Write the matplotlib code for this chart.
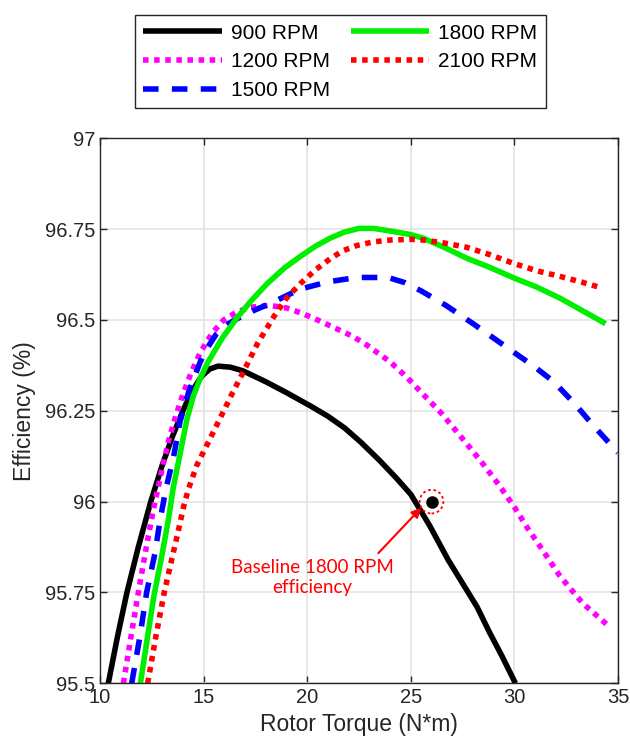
import matplotlib
matplotlib.use("Agg")
import matplotlib.pyplot as plt

plt.rcParams['font.family'] = ['Liberation Sans', 'DejaVu Sans']

# Efficiency vs rotor torque for each speed
torque_900 = [10.4, 10.85, 11.3, 11.85, 12.45, 13.0, 13.5, 14.0, 14.4, 14.9, 15.3, 15.7, 16.3,
              16.9, 18.0, 19.0, 20.2, 21.0, 21.8, 22.6, 23.5, 24.3, 25.0, 25.9, 26.8, 27.5,
              28.2, 28.8, 29.4, 30.05]
eff_900 = [95.5, 95.63, 95.75, 95.875, 96.0, 96.1, 96.18, 96.25, 96.3, 96.345, 96.365, 96.373,
           96.37, 96.36, 96.33, 96.3, 96.262, 96.235, 96.203, 96.163, 96.113, 96.065, 96.02,
           95.935, 95.84, 95.775, 95.71, 95.64, 95.575, 95.5]

torque_1200 = [11.13, 11.5, 11.85, 12.25, 12.6, 13.0, 13.3, 13.65, 14.0, 14.4, 14.84, 15.4,
               15.97, 16.6, 17.26, 18.2, 19.0, 19.67, 20.5, 21.45, 22.2, 22.9, 24.0, 24.85,
               25.6, 26.45, 27.4, 28.4, 29.2, 30.0, 30.6, 31.26, 32.2, 33.3, 34.5]
eff_1200 = [95.5, 95.63, 95.75, 95.88, 95.985, 96.09, 96.165, 96.235, 96.295, 96.355, 96.41,
            96.463, 96.5, 96.522, 96.535, 96.54, 96.533, 96.52, 96.5, 96.475, 96.455, 96.43,
            96.385, 96.34, 96.295, 96.245, 96.18, 96.11, 96.05, 95.985, 95.93, 95.875, 95.795,
            95.72, 95.66]

torque_1500 = [11.53, 11.93, 12.25, 12.66, 12.9, 13.2, 13.54, 13.86, 14.27, 14.84, 15.2, 15.6,
               16.2, 16.9, 17.5, 18.2, 19.67, 21.0, 22.4, 23.9, 24.7, 25.5, 26.7, 28.0, 29.0,
               30.0, 31.0, 31.9, 32.9, 33.8, 35.0]
eff_1500 = [95.5, 95.63, 95.75, 95.86, 95.95, 96.04, 96.12, 96.22, 96.3, 96.385, 96.425, 96.46,
            96.49, 96.512, 96.528, 96.545, 96.585, 96.605, 96.617, 96.617, 96.603, 96.58, 96.54,
            96.49, 96.45, 96.41, 96.37, 96.33, 96.27, 96.21, 96.135]

torque_1800 = [11.95, 12.3, 12.6, 12.98, 13.3, 13.54, 13.86, 14.19, 14.5, 14.84, 15.22, 15.9,
               16.6, 17.3, 18.07, 18.9, 19.67, 20.4, 21.1, 21.8, 22.5, 23.2, 24.0, 25.0, 25.6,
               26.6, 27.7, 28.8, 30.0, 31.1, 32.2, 33.3, 34.4]
eff_1800 = [95.5, 95.63, 95.74, 95.85, 95.95, 96.04, 96.13, 96.225, 96.29, 96.34, 96.385,
            96.45, 96.505, 96.553, 96.6, 96.643, 96.675, 96.703, 96.725, 96.742, 96.752, 96.752,
            96.745, 96.735, 96.725, 96.7, 96.67, 96.645, 96.615, 96.59, 96.56, 96.525, 96.49]

torque_2100 = [12.3, 12.7, 13.1, 13.46, 13.8, 14.03, 14.27, 14.67, 15.24, 15.8, 16.4, 16.9,
               17.6, 18.4, 19.0, 19.67, 20.4, 21.1, 21.7, 22.4, 23.2, 24.0, 25.0, 25.6, 26.6,
               27.7, 28.8, 30.0, 31.1, 32.2, 33.2, 34.1]
eff_2100 = [95.5, 95.63, 95.75, 95.84, 95.925, 95.985, 96.035, 96.1, 96.165, 96.23, 96.3,
            96.355, 96.435, 96.51, 96.56, 96.6, 96.638, 96.668, 96.69, 96.705, 96.715, 96.72,
            96.722, 96.72, 96.712, 96.7, 96.68, 96.655, 96.635, 96.62, 96.605, 96.59]

labels = ['900 RPM', '1200 RPM', '1500 RPM', '1800 RPM', '2100 RPM']

# Baseline operating point
base_torque = 26.0
base_eff = 96.0
annot_text = 'Baseline 1800 RPM\nefficiency'

x_ticks = [10, 15, 20, 25, 30, 35]
y_ticks = [95.5, 95.75, 96.0, 96.25, 96.5, 96.75, 97.0]
y_ticklabels = ['95.5', '95.75', '96', '96.25', '96.5', '96.75', '97']

fig = plt.figure(figsize=(6.3, 7.47), dpi=100)
ax = fig.add_axes([100 / 630, 1 - 683.3 / 747, 518 / 630, 545 / 747])

lw = 4.0
h900, = ax.plot(torque_900, eff_900, color='black', lw=lw, solid_capstyle='butt',
                solid_joinstyle='round')
h1200, = ax.plot(torque_1200, eff_1200, color='#ff00ff', lw=lw, linestyle=(0, (1, 1)),
                 dash_capstyle='butt')
h1500, = ax.plot(torque_1500, eff_1500, color='#0000ff', lw=lw, linestyle=(0, (2.8, 2.4)),
                 dash_capstyle='butt')
h1800, = ax.plot(torque_1800, eff_1800, color='#00ee00', lw=lw, solid_capstyle='butt',
                 solid_joinstyle='round')
h2100, = ax.plot(torque_2100, eff_2100, color='#ff0000', lw=lw, linestyle=(0, (1, 1)),
                 dash_capstyle='butt')

# Baseline marker with a dotted ring
ax.plot([base_torque], [base_eff], 'o', color='black', markersize=8, zorder=5)
ax.scatter([base_torque], [base_eff], s=290, facecolors='none', edgecolors='#ff0000',
           linewidths=1.3, linestyles=(0, (1.5, 1.5)), zorder=5)

ax.annotate('', xy=(25.5, 95.983), xytext=(23.43, 95.858),
            arrowprops=dict(arrowstyle='-|>', color='#ff0000', lw=1.5,
                            mutation_scale=14, shrinkA=0, shrinkB=0))
ax.text(20.25, 95.792, annot_text, color='#ff0000', ha='center', va='center',
        fontsize=13.5, family=['Lato', 'DejaVu Sans'], linespacing=1.2)

ax.set_xlim(10, 35)
ax.set_ylim(95.5, 97)
ax.set_xticks(x_ticks)
ax.set_yticks(y_ticks)
ax.set_yticklabels(y_ticklabels)
ax.grid(True, color='#e3e3e3', lw=1.2)
ax.set_axisbelow(True)
ax.tick_params(direction='in', length=5, width=1, colors='#262626', labelsize=14.5,
               top=True, right=True, labelcolor='#262626')
for s in ax.spines.values():
    s.set_color('#262626')
    s.set_linewidth(1)

ax.set_xlabel('Rotor Torque (N*m)', fontsize=16.5, color='#262626', labelpad=4)
ax.set_ylabel('Efficiency (%)', fontsize=16.5, color='#262626', labelpad=6)

leg = fig.legend([h900, h1200, h1500, h1800, h2100], labels, ncol=2,
                 loc='upper center', bbox_to_anchor=(340.5 / 630, 1 - 5 / 747),
                 fontsize=15, handlelength=3.75, handletextpad=0.45, columnspacing=1.0,
                 labelspacing=0.46, borderpad=0.4, fancybox=False, framealpha=1,
                 edgecolor='#262626')
leg.get_frame().set_linewidth(1)

fig.savefig('out.png', dpi=100)
